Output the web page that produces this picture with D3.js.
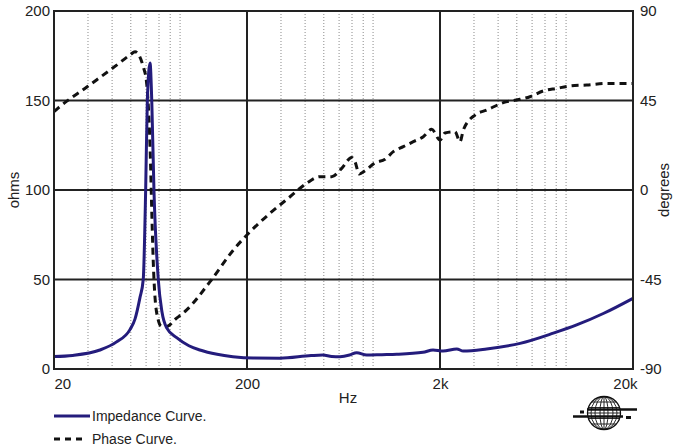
<!DOCTYPE html>
<html>
<head>
<meta charset="utf-8">
<script src="https://d3js.org/d3.v7.min.js"></script>
<style type="text/css">
  body { margin: 0; background: #fff; }
  text { font-family: 'Liberation Sans', Arial, sans-serif; fill: #222; }
</style>
</head>
<body>
<script type="text/javascript">

// impedance curve (Hz, ohms)
var impFreq = [20, 25, 34.6, 42, 49.5, 52.6, 55.8, 58, 59.7, 60.9, 62.9, 64.2, 65.9, 69.4, 72.5, 76.7, 86.4, 100, 114, 140, 169, 215, 296, 430, 495, 550, 607, 680, 740, 834, 1000, 1194, 1633, 1841, 2074, 2443, 2640, 3490, 5200, 7730, 10210, 14030, 20000];
var impOhms = [7, 7.6, 10.6, 15, 22, 28, 40, 50, 100, 150, 171, 150, 100, 50, 32, 23, 17.5, 13, 10.6, 8.2, 6.9, 6.1, 6.0, 7.5, 7.8, 7.0, 6.9, 7.8, 9.1, 7.8, 8.0, 8.2, 9.3, 10.6, 10.0, 11.2, 10.0, 11.2, 14.3, 20, 24.6, 31, 39.5];

// phase curve (Hz, degrees)
var phaseFreq = [20, 21, 29.6, 42.4, 49.5, 52.6, 58, 60.4, 62.9, 64.6, 65.4, 66.7, 69.4, 72, 76.7, 85, 97.4, 128.7, 169.9, 207.3, 263.2, 334.1, 407.8, 477.9, 549.6, 618.9, 697.5, 725.5, 763.7, 817.6, 921, 1038, 1146, 1291, 1455, 1639, 1812, 2000, 2123, 2391, 2540, 2643, 3036, 3490, 4256, 5200, 5850, 6860, 8050, 9440, 11510, 14620, 20000];
var phaseDeg = [39.4, 41.2, 51.8, 62.9, 67.9, 69.5, 62, 53.8, 21.8, -20, -36.7, -53.6, -65.4, -68.5, -68.6, -65, -60.3, -46.1, -30.2, -21, -11.7, -3.4, 3.4, 6.7, 6.7, 10.9, 16.4, 14.2, 8, 9.7, 13.7, 15.4, 19.3, 21.8, 24.3, 26.8, 30.5, 25.1, 28.7, 29.3, 24.3, 30.2, 37.7, 40.2, 43.9, 45.6, 46.9, 49.8, 51.1, 52.3, 52.8, 53.6, 53.6];

var xTicks = [20, 200, 2000, 20000];
var xTickLabels = ["20", "200", "2k", "20k"];
var minorFreqs = [30, 40, 50, 60, 70, 80, 90, 300, 400, 500, 600, 700, 800, 900, 3000, 4000, 5000, 6000, 7000, 8000, 9000];
var ohmTicks = [0, 50, 100, 150, 200];
var degTicks = [-90, -45, 0, 45, 90];
var legendLabels = ["Impedance Curve.", "Phase Curve."];

var W = 673, H = 448;
var margin = {top: 11, right: 40, bottom: 79, left: 54};
var width = W - margin.left - margin.right;
var height = H - margin.top - margin.bottom;
var navy = "#241c7c";

var svg = d3.select("body").append("svg")
    .attr("width", W)
    .attr("height", H);
var g = svg.append("g")
    .attr("transform", "translate(" + margin.left + "," + margin.top + ")");

var x = d3.scaleLog().domain([20, 20000]).range([0, width]);
var yOhm = d3.scaleLinear().domain([0, 200]).range([height, 0]);
var yDeg = d3.scaleLinear().domain([-90, 90]).range([height, 0]);

// minor dotted grid
g.selectAll(".minor")
  .data(minorFreqs)
  .enter().append("line")
    .attr("x1", function(d) { return x(d); })
    .attr("x2", function(d) { return x(d); })
    .attr("y1", 0).attr("y2", height)
    .attr("stroke", "#8a8a8a")
    .attr("stroke-width", 1)
    .attr("stroke-dasharray", "1,2");

// major grid
g.selectAll(".hgrid")
  .data([50, 100, 150])
  .enter().append("line")
    .attr("x1", 0).attr("x2", width)
    .attr("y1", function(d) { return yOhm(d); })
    .attr("y2", function(d) { return yOhm(d); })
    .attr("stroke", "#222").attr("stroke-width", 2);
g.selectAll(".vgrid")
  .data([200, 2000])
  .enter().append("line")
    .attr("x1", function(d) { return x(d); })
    .attr("x2", function(d) { return x(d); })
    .attr("y1", 0).attr("y2", height)
    .attr("stroke", "#222").attr("stroke-width", 2);

// curves
var imp = impFreq.map(function(f, i) { return [f, impOhms[i]]; });
var phase = phaseFreq.map(function(f, i) { return [f, phaseDeg[i]]; });

g.append("path")
  .datum(phase)
  .attr("fill", "none")
  .attr("stroke", "#111")
  .attr("stroke-width", 3)
  .attr("stroke-dasharray", "7,5")
  .attr("d", d3.line()
    .x(function(d) { return x(d[0]); })
    .y(function(d) { return yDeg(d[1]); })
    .curve(d3.curveMonotoneX));

g.append("path")
  .datum(imp)
  .attr("fill", "none")
  .attr("stroke", navy)
  .attr("stroke-width", 3)
  .attr("stroke-linejoin", "round")
  .attr("d", d3.line()
    .x(function(d) { return x(d[0]); })
    .y(function(d) { return yOhm(d[1]); })
    .curve(d3.curveMonotoneX));

// frame
g.append("rect")
  .attr("width", width).attr("height", height)
  .attr("fill", "none")
  .attr("stroke", "#222").attr("stroke-width", 2);

// axes
var left = g.append("g")
  .call(d3.axisLeft(yOhm).tickValues(ohmTicks).tickSize(0).tickPadding(4));
var right = g.append("g")
  .attr("transform", "translate(" + width + ",0)")
  .call(d3.axisRight(yDeg).tickValues(degTicks).tickSize(0).tickPadding(7)
    .tickFormat(function(d) { return String(d); }));
var bottom = g.append("g")
  .attr("transform", "translate(0," + height + ")")
  .call(d3.axisBottom(x).tickValues(xTicks).tickSize(0).tickPadding(9)
    .tickFormat(function(d, i) { return xTickLabels[i]; }));

[left, right, bottom].forEach(function(a) {
  a.select(".domain").remove();
  a.selectAll("text")
    .style("font-size", "15px")
    .attr("fill", "#222");
});
bottom.selectAll("text")
  .attr("text-anchor", function(d, i) { return i == 0 ? "start" : (i == xTicks.length - 1 ? "end" : "middle"); })
  .attr("dx", function(d, i) { return i == xTicks.length - 1 ? 4 : 0; });

// axis titles
svg.append("text")
  .attr("transform", "translate(19," + (margin.top + height / 2) + ") rotate(-90)")
  .attr("text-anchor", "middle")
  .style("font-size", "15px")
  .text("ohms");
svg.append("text")
  .attr("transform", "translate(669," + (margin.top + height / 2) + ") rotate(-90)")
  .attr("text-anchor", "middle")
  .style("font-size", "15px")
  .text("degrees");
svg.append("text")
  .attr("x", 348).attr("y", 403)
  .attr("text-anchor", "middle")
  .style("font-size", "15px")
  .text("Hz");

// legend
var legend = svg.selectAll(".legend")
  .data(legendLabels)
  .enter().append("g")
    .attr("transform", function(d, i) { return "translate(54," + (416 + i * 23) + ")"; });
legend.append("line")
  .attr("x1", 0).attr("x2", function(d, i) { return i == 0 ? 36 : 32; })
  .attr("stroke", function(d, i) { return i == 0 ? navy : "#111"; })
  .attr("stroke-width", 3)
  .attr("stroke-dasharray", function(d, i) { return i == 0 ? null : "6,5"; });
legend.append("text")
  .attr("x", 38).attr("y", 5)
  .style("font-size", "14px")
  .text(function(d) { return d; });

// globe logo
var logo = svg.append("g").attr("transform", "translate(604,413)");
logo.append("circle").attr("r", 16.5).attr("fill", "#fff").attr("stroke", "#111").attr("stroke-width", 1.3);
[-11, -5.5, 0, 5.5, 11].forEach(function(dy) {
  var hw = Math.sqrt(16.5 * 16.5 - dy * dy);
  logo.append("line").attr("x1", -hw).attr("x2", hw).attr("y1", dy).attr("y2", dy)
    .attr("stroke", "#111").attr("stroke-width", 0.9);
});
[4, 9, 13].forEach(function(rx) {
  logo.append("ellipse").attr("rx", rx).attr("ry", 16.5)
    .attr("fill", "none").attr("stroke", "#111").attr("stroke-width", 0.9);
});
logo.append("line").attr("x1", 0).attr("x2", 0).attr("y1", -16.5).attr("y2", 16.5)
  .attr("stroke", "#111").attr("stroke-width", 0.9);
logo.append("line").attr("x1", -17).attr("x2", 33).attr("y1", -3.5).attr("y2", -3.5)
  .attr("stroke", "#111").attr("stroke-width", 2.5);
logo.append("line").attr("x1", -31).attr("x2", 19).attr("y1", 3.5).attr("y2", 3.5)
  .attr("stroke", "#111").attr("stroke-width", 2.5);
logo.append("rect").attr("x", -24).attr("y", -2.5).attr("width", 4).attr("height", 3).attr("fill", "#111");
logo.append("rect").attr("x", 22).attr("y", 3).attr("width", 5).attr("height", 3).attr("fill", "#111");

</script>
</body>
</html>
